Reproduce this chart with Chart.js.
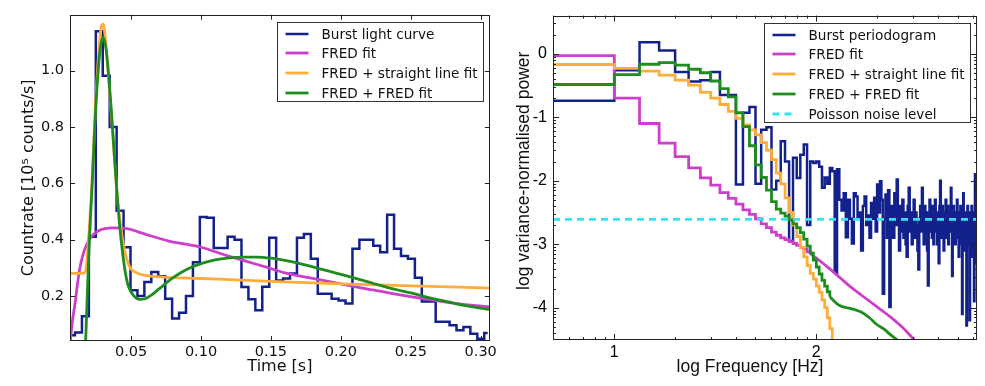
<!DOCTYPE html>
<html>
<head>
<meta charset="utf-8">
<style>
  body { margin: 0; background: #fff; }
  #wrap { position: relative; width: 985px; height: 386px; background: #fff; }
  canvas { position: absolute; top: 0; }
  #lcChart { left: 0; }
  #psChart { left: 500px; }
</style>
<script src="https://cdn.jsdelivr.net/npm/chart.js@4.4.1/dist/chart.umd.min.js"></script>
</head>
<body>
<div id="wrap">
  <canvas id="lcChart" width="500" height="386"></canvas>
  <canvas id="psChart" width="485" height="386"></canvas>
</div>
<script>
// ---------- left panel: light curve (10^5 counts/s) ----------
const LC_START = 0.0074;   // centre of first bin [s]
const LC_BIN = 0.00496;    // bin width [s]
const lcRates = [
  0.060, 0.070, 0.128, 0.410, 1.140, 0.982, 0.800, 0.503, 0.373, 0.220,
  0.200, 0.250, 0.285, 0.270, 0.190, 0.120, 0.140, 0.200, 0.320, 0.480,
  0.478, 0.370, 0.370, 0.410, 0.400, 0.232, 0.188, 0.149, 0.233, 0.407,
  0.255, 0.262, 0.280, 0.407, 0.420, 0.332, 0.208, 0.208, 0.190, 0.184,
  0.173, 0.368, 0.400, 0.400, 0.378, 0.355, 0.488, 0.368, 0.342, 0.332,
  0.265, 0.180, 0.180, 0.108, 0.108, 0.096, 0.078, 0.090, 0.066, 0.048,
  0.068
];

const fredTimes = [0.0065, 0.008, 0.0099, 0.0117, 0.0134, 0.0152, 0.017, 0.0205, 0.0255, 0.031, 0.038, 0.047,
  0.061, 0.077, 0.100, 0.118, 0.132, 0.146, 0.160, 0.177, 0.200, 0.222, 0.2455, 0.269, 0.293, 0.3065];
const fredRates = [0.04, 0.11, 0.173, 0.245, 0.30, 0.34, 0.368, 0.403, 0.428, 0.439, 0.442, 0.439,
  0.418, 0.395, 0.373, 0.344, 0.324, 0.303, 0.282, 0.265, 0.243, 0.222, 0.201, 0.183, 0.167, 0.161];

const lineTimes = [0.0063, 0.012, 0.016, 0.0175, 0.019, 0.0205, 0.022, 0.024, 0.0265, 0.0285, 0.030, 0.0315,
  0.033, 0.035, 0.0375, 0.040, 0.0425, 0.045, 0.0475, 0.050, 0.055, 0.060, 0.070, 0.100, 0.150, 0.200, 0.250, 0.3065];
const lineRates = [0.28, 0.28, 0.281, 0.29, 0.36, 0.47, 0.60, 0.82, 1.04, 1.15, 1.165, 1.12,
  1.03, 0.90, 0.73, 0.56, 0.45, 0.37, 0.32, 0.295, 0.28, 0.273, 0.268, 0.262, 0.252, 0.243, 0.236, 0.228];

const doubleTimes = [0.0175, 0.019, 0.020, 0.022, 0.024, 0.026, 0.028, 0.030, 0.032, 0.034, 0.036, 0.038, 0.040,
  0.042, 0.044, 0.046, 0.048, 0.052, 0.056, 0.060, 0.065, 0.070, 0.080, 0.090, 0.100, 0.110, 0.120, 0.130,
  0.140, 0.150, 0.160, 0.170, 0.180, 0.190, 0.200, 0.210, 0.220, 0.230, 0.240, 0.250, 0.260, 0.270, 0.280,
  0.290, 0.3065];
const doubleRates = [0.04, 0.25, 0.38, 0.58, 0.80, 0.97, 1.08, 1.118, 1.08, 0.98, 0.85, 0.70, 0.56,
  0.44, 0.35, 0.28, 0.235, 0.20, 0.188, 0.19, 0.205, 0.225, 0.265, 0.295, 0.315, 0.328, 0.335, 0.338,
  0.338, 0.334, 0.326, 0.316, 0.303, 0.29, 0.277, 0.263, 0.249, 0.235, 0.222, 0.211, 0.198, 0.186, 0.175,
  0.165, 0.152];

// ---------- right panel: periodogram, log10 power at f = n / T ----------
const FREQ_STEP = 10 / 3;  // Hz
const pgPower = [
  -0.74, -0.74, -0.26, 0.18, 0.05, -0.29, -0.44, -0.42, -0.29, -0.65,
  -0.65, -2.06, -0.93, -0.84, -2.05, -1.20, -1.16, -2.14, -2.00, -1.38,
  -1.70, -2.95, -1.64, -1.96, -1.59, -1.43, -2.70, -1.70, -1.72, -1.70,
  -1.78, -2.11, -1.95, -2.05, -1.80, -1.85, -3.45, -1.82, -2.30, -2.47,
  -2.20, -2.89, -2.30, -2.60, -2.99, -2.20, -2.25, -2.60, -2.50, -3.10,
  -2.40, -2.25, -2.70, -2.55, -2.90, -2.35, -2.60, -2.27, -2.80, -2.06,
  -2.50, -2.01, -2.30, -3.78, -2.60, -2.22, -2.90, -2.15, -3.99, -2.70,
  -2.40, -2.90, -2.20, -2.70, -1.98, -2.60, -3.10, -2.40, -2.80, -2.30,
  -2.90, -2.50, -3.00, -3.20, -2.40, -2.11, -2.80, -2.50, -3.00, -2.60,
  -2.30, -2.90, -2.50, -2.70, -3.10, -3.40, -2.60, -2.40, -2.80, -2.11,
  -2.60, -3.00, -2.40, -2.70, -2.50, -3.10, -3.65, -2.60, -2.30, -2.80,
  -2.50, -2.90, -2.40, -3.00, -2.60, -2.30, -2.80, -2.70, -3.00, -2.50,
  -3.30, -2.40, -2.00, -2.70, -2.90, -2.40, -2.60, -3.10, -2.50, -2.80,
  -2.30, -2.90, -2.60, -2.40, -3.00, -2.70, -2.50, -2.80, -2.11, -2.60,
  -3.50, -2.70, -2.40, -2.90, -2.60, -3.00, -2.50, -2.70, -2.30, -2.90,
  -2.60, -3.20, -2.50, -2.80, -2.40, -3.00, -2.70, -4.10, -2.50, -2.20,
  -2.80, -2.60, -3.10, -2.50, -2.90, -4.28, -2.60, -2.40, -3.00, -2.70,
  -2.50, -4.20, -2.80, -2.60, -3.20, -2.40, -2.90, -2.70, -3.00, -2.50,
  -3.90, -2.60, -1.90, -2.80, -3.30, -2.50, -2.70
];
const fredPowStep = [-0.03, -0.03, -0.70, -1.10, -1.41, -1.62, -1.80, -1.956, -2.07, -2.19,
  -2.28, -2.37, -2.46, -2.53, -2.60, -2.68, -2.74, -2.81, -2.86, -2.90,
  -2.93, -2.96, -2.99, -3.02, -3.05, -3.08, -3.12, -3.15];
const fredPowN = [28, 30, 35, 40, 45, 50, 60, 70, 80, 90, 100, 110];
const fredPowSmooth = [-3.15, -3.22, -3.39, -3.55, -3.69, -3.80, -3.99, -4.15, -4.31, -4.48, -4.62, -4.75];
const linePow = [-0.17, -0.17, -0.23, -0.276, -0.338, -0.417, -0.495, -0.61, -0.70, -0.80,
  -0.91, -1.02, -1.12, -1.20, -1.28, -1.40, -1.52, -1.67, -1.88, -2.05,
  -2.27, -2.50, -2.70, -2.88, -3.05, -3.20, -3.34, -3.46, -3.55, -3.66,
  -3.76, -3.88, -4.00, -4.16, -4.33, -4.52, -4.75];
const doublePowStep = [-0.485, -0.485, -0.33, -0.166, -0.14, -0.18, -0.245, -0.30, -0.43, -0.55,
  -0.68, -0.93, -1.15, -1.45, -1.75, -1.95, -2.15, -2.33, -2.45, -2.51,
  -2.56, -2.62, -2.68, -2.74, -2.82, -2.92, -3.03, -3.14, -3.25, -3.36,
  -3.47, -3.57, -3.66, -3.75, -3.83];
const doublePowN = [35, 38, 40, 45, 50, 55, 60, 65, 70, 80, 90];
const doublePowSmooth = [-3.83, -3.94, -3.98, -4.02, -4.07, -4.16, -4.27, -4.34, -4.43, -4.57, -4.70];
const poissonLevel = -2.61;

const BLUE = '#13218c', MAGENTA = '#cc3fcc', ORANGE = '#ffad3a', GREEN = '#1e8c1e', CYAN = '#2ee6f0';
const F_MIN = 0.6965, F_MAX = 2.7955;

const logF = n => Math.log10(n * FREQ_STEP);
const stepSeries = vals => vals.map((v, i) => ({ x: logF(i + 1), y: v }));
const nSeries = (ns, vals) => ns.map((n, i) => ({ x: logF(n), y: vals[i] }));
const xySeries = (xs, ys) => xs.map((x, i) => ({ x: x, y: ys[i] }));

// frame box with inward ticks on all four sides
const frameTicks = {
  id: 'frameTicks',
  afterDatasetsDraw(chart, args, o) {
    const { ctx, chartArea: a } = chart;
    const xs = chart.scales.x, ys = chart.scales.y;
    ctx.save();
    ctx.strokeStyle = '#222';
    ctx.lineWidth = 1;
    ctx.beginPath();
    const xt = (v, len) => {
      const p = Math.round(xs.getPixelForValue(v)) + 0.5;
      ctx.moveTo(p, a.bottom); ctx.lineTo(p, a.bottom - len);
      ctx.moveTo(p, a.top); ctx.lineTo(p, a.top + len);
    };
    const yt = (v, len) => {
      const p = Math.round(ys.getPixelForValue(v)) + 0.5;
      ctx.moveTo(a.left, p); ctx.lineTo(a.left + len, p);
      ctx.moveTo(a.right, p); ctx.lineTo(a.right - len, p);
    };
    xs.ticks.forEach(t => xt(t.value, o.major));
    ys.ticks.forEach(t => yt(t.value, o.major));
    (o.minorX || []).forEach(v => { if (v > xs.min && v < xs.max) xt(v, o.minor); });
    (o.minorY || []).forEach(v => { if (v > ys.min && v < ys.max) yt(v, o.minor); });
    ctx.stroke();
    ctx.strokeRect(Math.round(a.left) + 0.5, Math.round(a.top) + 0.5,
      Math.round(a.width) - 1, Math.round(a.height) - 1);
    ctx.restore();
  }
};

// matplotlib-like legend box in the upper right corner
const boxLegend = {
  id: 'boxLegend',
  afterDraw(chart, args, o) {
    const { ctx, chartArea: a } = chart;
    const items = chart.data.datasets.filter(d => d.label && !d.noLegend);
    ctx.save();
    ctx.font = o.font;
    const textW = Math.max(...items.map(d => ctx.measureText(d.label).width));
    const rowH = 19.8;
    const w = Math.round(44 + textW + 6), h = Math.round(20 + (items.length - 1) * rowH);
    const x0 = Math.round(a.right - o.inset - w) + 0.5, y0 = Math.round(a.top + o.inset) + 0.5;
    ctx.fillStyle = '#fff';
    ctx.fillRect(x0, y0, w, h);
    ctx.strokeStyle = '#333';
    ctx.lineWidth = 1;
    ctx.strokeRect(x0, y0, w, h);
    items.forEach((d, i) => {
      const y = Math.round(y0 + 11 + i * rowH);
      ctx.beginPath();
      ctx.setLineDash(d.borderDash || []);
      ctx.strokeStyle = d.borderColor;
      ctx.lineWidth = d.borderWidth;
      ctx.moveTo(x0 + 8, y); ctx.lineTo(x0 + 31, y);
      ctx.stroke();
      ctx.setLineDash([]);
      ctx.fillStyle = '#111';
      ctx.textBaseline = 'middle';
      ctx.fillText(d.label, x0 + 44, y + 1);
    });
    ctx.restore();
  }
};

// axis titles placed relative to the plot area
const axisTitles = {
  id: 'axisTitles',
  afterDraw(chart, args, o) {
    const { ctx, chartArea: a } = chart;
    ctx.save();
    ctx.fillStyle = '#111';
    ctx.font = o.font;
    ctx.textAlign = 'center';
    ctx.textBaseline = 'middle';
    ctx.fillText(o.x, (a.left + a.right) / 2 + o.xShift, a.bottom + o.xGap);
    ctx.translate(a.left - o.yGap, (a.top + a.bottom) / 2 + o.yShift);
    ctx.rotate(-Math.PI / 2);
    ctx.fillText(o.y, 0, 0);
    ctx.restore();
  }
};

const lineDs = (label, data, color, width, extra) => Object.assign({
  label: label, data: data, borderColor: color, backgroundColor: color,
  borderWidth: width, pointRadius: 0, fill: false, tension: 0
}, extra || {});

const noGrid = { display: false, drawTicks: false };

new Chart(document.getElementById('lcChart'), {
  type: 'line',
  data: {
    datasets: [
      lineDs('Burst light curve', xySeries(lcRates.map((_, i) => LC_START + i * LC_BIN), lcRates), BLUE, 2.5,
        { stepped: 'middle', order: 4 }),
      lineDs('FRED fit', xySeries(fredTimes, fredRates), MAGENTA, 2.8,
        { cubicInterpolationMode: 'monotone', order: 3 }),
      lineDs('FRED + straight line fit', xySeries(lineTimes, lineRates), ORANGE, 2.8,
        { cubicInterpolationMode: 'monotone', order: 2 }),
      lineDs('FRED + FRED fit', xySeries(doubleTimes, doubleRates), GREEN, 2.8,
        { cubicInterpolationMode: 'monotone', order: 1 })
    ]
  },
  options: {
    responsive: false,
    animation: false,
    layout: { padding: { left: 0, top: 13, right: 7, bottom: 0 } },
    scales: {
      x: {
        type: 'linear', min: 0.0063, max: 0.3065,
        afterFit: s => { s.height = 45; },
        grid: noGrid, border: { display: false },
        ticks: {
          stepSize: 0.05, includeBounds: false, maxRotation: 0, autoSkip: false, padding: 3,
          color: '#111', font: { family: 'DejaVu Sans', size: 14.5 },
          callback: v => v.toFixed(2)
        }
      },
      y: {
        min: 0.04, max: 1.199,
        afterFit: s => { s.width = 70; },
        grid: noGrid, border: { display: false },
        ticks: {
          stepSize: 0.2, includeBounds: false, padding: 6,
          color: '#111', font: { family: 'DejaVu Sans', size: 14.5 },
          callback: v => v.toFixed(1)
        }
      }
    },
    plugins: {
      legend: { display: false },
      tooltip: { enabled: false },
      frameTicks: { major: 5 },
      boxLegend: { font: '13.6px "DejaVu Sans"', inset: 7 },
      axisTitles: {
        font: '16px "DejaVu Sans"', x: 'Time [s]', y: 'Countrate [10\u2075 counts/s]',
        xShift: 0, xGap: 26, yShift: 0, yGap: 41
      }
    }
  },
  plugins: [frameTicks, boxLegend, axisTitles]
});

const decades = [0, 1, 2];
const minorF = decades.flatMap(d => [2, 3, 4, 5, 6, 7, 8, 9].map(k => d + Math.log10(k)));
const minorP = [-5, -4, -3, -2, -1, 0].flatMap(d => [2, 3, 4, 5, 6, 7, 8, 9].map(k => d + Math.log10(k)));

new Chart(document.getElementById('psChart'), {
  type: 'line',
  data: {
    datasets: [
      lineDs('Burst periodogram', stepSeries(pgPower), BLUE, 2.5, { stepped: 'before', order: 5 }),
      lineDs('FRED fit', stepSeries(fredPowStep), MAGENTA, 2.8, { stepped: 'before', order: 4 }),
      lineDs('FRED + straight line fit', stepSeries(linePow), ORANGE, 2.8, { stepped: 'before', order: 3 }),
      lineDs('FRED + FRED fit', stepSeries(doublePowStep), GREEN, 2.8, { stepped: 'before', order: 2 }),
      lineDs('Poisson noise level', [{ x: F_MIN, y: poissonLevel }, { x: F_MAX, y: poissonLevel }], CYAN, 2.8,
        { borderDash: [7, 5], order: 0 }),
      lineDs('FRED fit (high f)', nSeries(fredPowN, fredPowSmooth), MAGENTA, 2.8,
        { cubicInterpolationMode: 'monotone', order: 4, noLegend: true }),
      lineDs('FRED + FRED fit (high f)', nSeries(doublePowN, doublePowSmooth), GREEN, 2.8,
        { cubicInterpolationMode: 'monotone', order: 2, noLegend: true })
    ]
  },
  options: {
    responsive: false,
    animation: false,
    layout: { padding: { left: 0, top: 13, right: 8, bottom: 0 } },
    scales: {
      x: {
        type: 'linear', min: F_MIN, max: F_MAX,
        afterFit: s => { s.height = 46; },
        grid: noGrid, border: { display: false },
        ticks: {
          stepSize: 1, includeBounds: false, maxRotation: 0, autoSkip: false, padding: 3,
          color: '#000', font: { family: 'Liberation Sans', size: 16 },
          callback: v => String(v)
        }
      },
      y: {
        min: -4.51, max: 0.6,
        afterFit: s => { s.width = 53; },
        grid: noGrid, border: { display: false },
        ticks: {
          stepSize: 1, includeBounds: false, padding: 6,
          color: '#000', font: { family: 'Liberation Sans', size: 16 },
          callback: v => String(v)
        }
      }
    },
    plugins: {
      legend: { display: false },
      tooltip: { enabled: false },
      frameTicks: { major: 6, minor: 3, minorX: minorF, minorY: minorP },
      boxLegend: { font: '13.6px "DejaVu Sans"', inset: 7 },
      axisTitles: {
        font: '17.5px "Liberation Sans"', x: 'log Frequency [Hz]', y: 'log variance-normalised power',
        xShift: -15, xGap: 27, yShift: -7, yGap: 29
      }
    }
  },
  plugins: [frameTicks, boxLegend, axisTitles]
});
</script>
</body>
</html>
